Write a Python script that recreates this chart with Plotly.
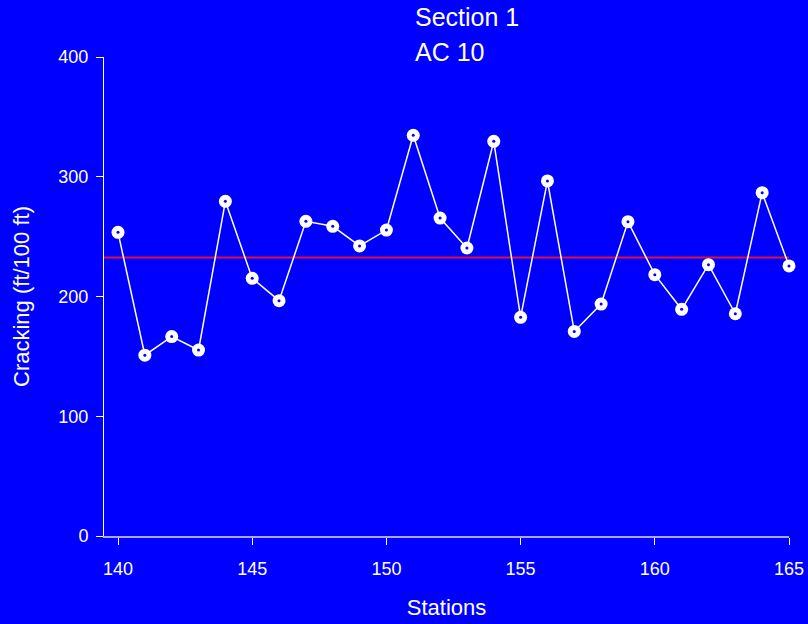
import plotly.graph_objects as go

stations = list(range(140, 166))
cracking = [253.6, 151, 166.5, 155.3, 279.5, 215.2, 196.5, 262.8, 258.6, 242.2,
            255.5, 334.6, 265.5, 240.5, 329.6, 182.6, 296.5, 170.8, 193.7, 262.5,
            218.2, 189.3, 226.6, 185.6, 286.7, 225.5]
mean_level = 232.5
x_ticks = [140, 145, 150, 155, 160, 165]
y_ticks = [0, 100, 200, 300, 400]
title_lines = ["Section 1", "AC 10"]

BLUE = "#0000ff"
FONT = "Liberation Sans, Arial, sans-serif"

fig = go.Figure()

fig.add_shape(
    type="line", xref="paper", yref="y",
    x0=0, x1=1, y0=mean_level, y1=mean_level,
    line=dict(color="#dd1144", width=2), layer="below",
)
fig.add_trace(go.Scatter(
    x=stations, y=cracking, mode="lines+markers",
    line=dict(color="white", width=1.5),
    marker=dict(size=13, color="white", line=dict(width=0)),
    showlegend=False, cliponaxis=False,
))
fig.add_trace(go.Scatter(
    x=stations, y=cracking, mode="markers",
    marker=dict(size=3, color=BLUE, line=dict(width=0)),
    showlegend=False, cliponaxis=False, hoverinfo="skip",
))

fig.update_layout(
    width=808, height=624, autosize=False,
    margin=dict(l=104, r=19, t=57, b=88),
    paper_bgcolor=BLUE, plot_bgcolor=BLUE,
    font=dict(family=FONT, color="white", size=18),
    showlegend=False,
)

fig.update_xaxes(
    automargin=False,
    range=[139.478, 165], tickvals=x_ticks, ticktext=[str(v) for v in x_ticks],
    showgrid=False, zeroline=False,
    showline=True, linecolor="#a8a8ff", linewidth=2,
    ticks="outside", ticklen=7, tickcolor="white", tickwidth=1,
    tickfont=dict(size=18, color="white"), ticklabelstandoff=8,
    title=dict(text="Stations", font=dict(size=22, color="white"), standoff=22),
)
fig.update_yaxes(
    automargin=False,
    range=[0, 400], tickvals=y_ticks, ticktext=[str(v) for v in y_ticks],
    showgrid=False, zeroline=False,
    showline=True, linecolor="white", linewidth=1,
    ticks="outside", ticklen=7, tickcolor="white", tickwidth=1,
    tickfont=dict(size=18, color="white"), ticklabelstandoff=4,
    title=dict(text="Cracking (ft/100 ft)", font=dict(size=22, color="white"), standoff=22),
)

for text, py in zip(title_lines, [17, 52]):
    fig.add_annotation(
        text=text, xref="paper", yref="paper",
        x=(413 - 104) / (789 - 104), y=(536 - py) / (536 - 57),
        xanchor="left", yanchor="middle", showarrow=False,
        font=dict(size=25, color="white", family=FONT),
    )

html = fig.to_html(
    full_html=True,
    config={"displayModeBar": False, "responsive": False},
)
html = html.replace(
    "<head>",
    "<head><style>html,body{margin:0;padding:0;overflow:hidden;background:#0000ff;}</style>",
    1,
)
with open("out.html", "w", encoding="utf-8") as f:
    f.write(html)
